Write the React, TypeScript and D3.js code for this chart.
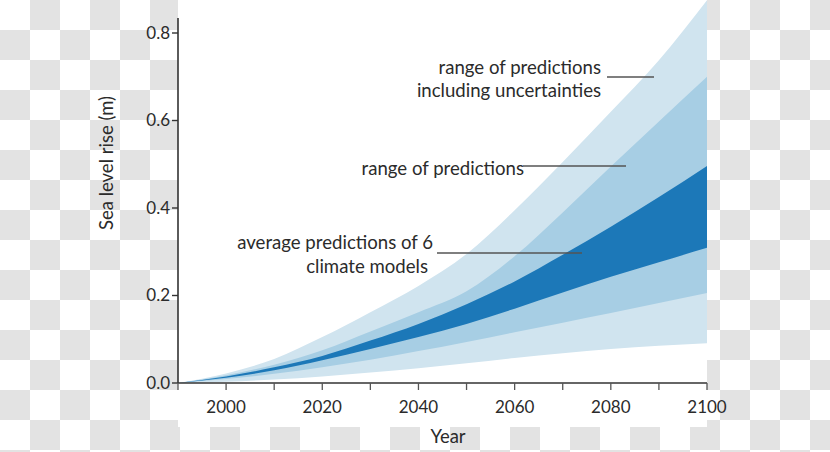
import React from "react";
import * as d3 from "d3";

const years = [1990, 2000, 2010, 2020, 2030, 2040, 2050, 2060, 2070, 2080, 2090, 2100];
const outerHigh = [0, 0.022, 0.055, 0.105, 0.162, 0.222, 0.295, 0.395, 0.505, 0.62, 0.738, 0.875];
const midHigh = [0, 0.018, 0.042, 0.075, 0.118, 0.162, 0.21, 0.29, 0.39, 0.495, 0.598, 0.7];
const darkHigh = [0, 0.015, 0.036, 0.062, 0.097, 0.135, 0.18, 0.232, 0.293, 0.357, 0.425, 0.496];
const darkLow = [0, 0.012, 0.029, 0.052, 0.078, 0.105, 0.135, 0.17, 0.207, 0.243, 0.276, 0.309];
const midLow = [0, 0.009, 0.021, 0.036, 0.053, 0.073, 0.094, 0.116, 0.138, 0.16, 0.183, 0.206];
const outerLow = [0, 0.003, 0.008, 0.015, 0.024, 0.034, 0.045, 0.057, 0.068, 0.078, 0.085, 0.091];

const xTicks = [1990, 2000, 2010, 2020, 2030, 2040, 2050, 2060, 2070, 2080, 2090, 2100];
const xTickLabels = ["2000", "2020", "2040", "2060", "2080", "2100"];
const yTicks = [0, 0.2, 0.4, 0.6, 0.8];
const yTickLabels = ["0.0", "0.2", "0.4", "0.6", "0.8"];

const FONT = "Lato, 'Open Sans', sans-serif";
const TEXT = "#2b2b2b";

export default function App() {
  const x = d3.scaleLinear().domain([1990, 2100]).range([178, 707]);
  const y = d3.scaleLinear().domain([0, 0.8]).range([383, 33]);

  const band = (lo: number[], hi: number[]) =>
    d3
      .area<number>()
      .x((_, i) => x(years[i]))
      .y0((_, i) => y(lo[i]))
      .y1((_, i) => y(hi[i]))
      .curve(d3.curveMonotoneX)(years) as string;

  const x0 = x(1990);
  const x1 = x(2100);
  const y0 = y(0);

  return (
    <svg
      width={830}
      height={452}
      style={{ position: "absolute", left: 0, top: 0, display: "block" }}
    >
      <defs>
        <pattern id="checker" width={60} height={60} patternUnits="userSpaceOnUse">
          <rect x={0} y={0} width={60} height={60} fill="#ffffff" />
          <rect x={30} y={0} width={30} height={30} fill="#e3e3e3" />
          <rect x={0} y={30} width={30} height={30} fill="#e3e3e3" />
        </pattern>
      </defs>
      <rect x={0} y={0} width={830} height={452} fill="url(#checker)" />
      <rect x={x0} y={0} width={x1 - x0} height={427} fill="#ffffff" />

      <path d={band(outerLow, outerHigh)} fill="#d0e4ef" />
      <path d={band(midLow, midHigh)} fill="#a7cee4" />
      <path d={band(darkLow, darkHigh)} fill="#1c78b8" />

      {/* y axis */}
      <line x1={x0} x2={x0} y1={18} y2={y0} stroke="#333" strokeWidth={1.6} />
      {yTicks.map((t, i) => (
        <g key={"yt" + i}>
          <line x1={x0 - 6} x2={x0} y1={y(t)} y2={y(t)} stroke="#333" strokeWidth={1.4} />
          <text
            x={x0 - 8}
            y={y(t)}
            dy="0.35em"
            textAnchor="end"
            fontFamily={FONT}
            fontSize={17}
            fill={TEXT}
          >
            {yTickLabels[i]}
          </text>
        </g>
      ))}

      {/* x axis */}
      <line x1={x0} x2={x1} y1={y0} y2={y0} stroke="#333" strokeWidth={1.6} />
      {xTicks.map((t) => (
        <line key={"xt" + t} x1={x(t)} x2={x(t)} y1={y0} y2={y0 + 7} stroke="#555" strokeWidth={1.3} />
      ))}
      {xTickLabels.map((l) => (
        <text
          key={"xl" + l}
          x={x(+l)}
          y={413}
          textAnchor="middle"
          fontFamily={FONT}
          fontSize={17}
          fill={TEXT}
        >
          {l}
        </text>
      ))}

      <text x={448} y={443} textAnchor="middle" fontFamily={FONT} fontSize={18.5} fill={TEXT}>
        Year
      </text>
      <text
        transform="translate(113,163) rotate(-90)"
        textAnchor="middle"
        fontFamily={FONT}
        fontSize={18.5}
        fill={TEXT}
      >
        Sea level rise (m)
      </text>

      {/* annotations */}
      <g fontFamily={FONT} fontSize={18.6} fill={TEXT}>
        <text x={601} y={74} textAnchor="end">range of predictions</text>
        <text x={601} y={97} textAnchor="end">including uncertainties</text>
        <text x={524} y={175} textAnchor="end">range of predictions</text>
        <text x={433} y={249} textAnchor="end">average predictions of 6</text>
        <text x={428} y={273} textAnchor="end">climate models</text>
      </g>
      <g stroke="#555" strokeWidth={1.5}>
        <line x1={607} x2={654} y1={77} y2={77} />
        <line x1={523} x2={626} y1={166} y2={166} />
        <line x1={437} x2={582} y1={253} y2={253} />
      </g>
    </svg>
  );
}
